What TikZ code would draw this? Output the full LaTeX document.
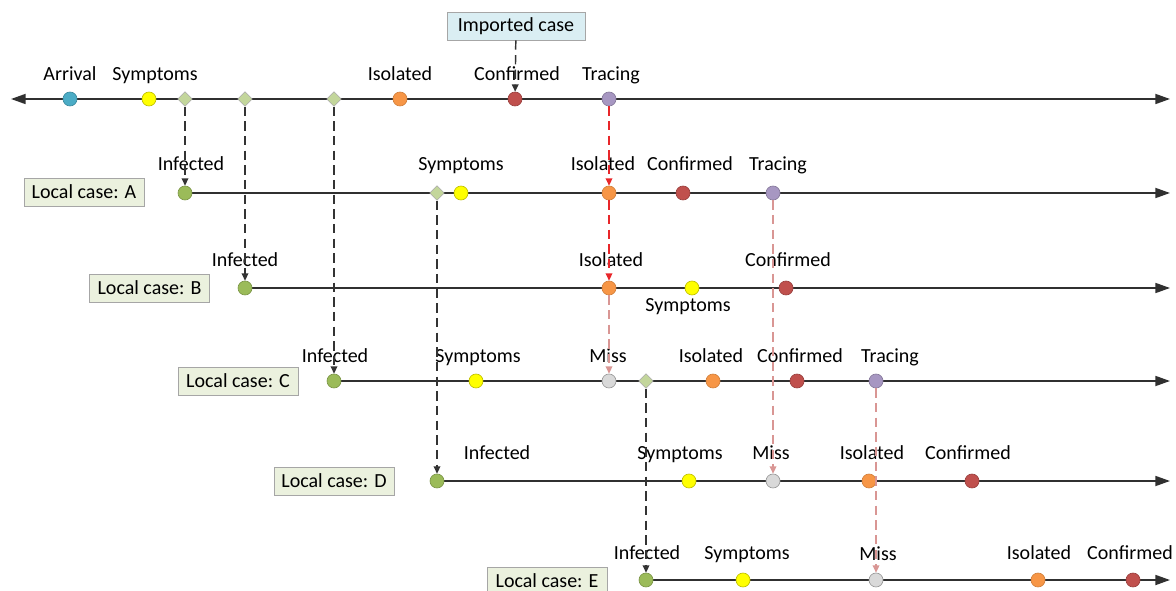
\documentclass[tikz,border=0pt]{standalone}
\usepackage{fontspec}
\setmainfont{Carlito}
\usetikzlibrary{shapes.geometric,arrows.meta}
\definecolor{cArr}{HTML}{4BACC6}
\definecolor{cSym}{HTML}{FFFF00}
\definecolor{cInf}{HTML}{9BBB59}
\definecolor{cIso}{HTML}{F79646}
\definecolor{cCon}{HTML}{C0504D}
\definecolor{cTra}{HTML}{A797C2}
\definecolor{cMiss}{HTML}{D9D9D9}
\definecolor{cDia}{HTML}{C3D69B}
\definecolor{cBoxG}{HTML}{EBF1DE}
\definecolor{cBoxB}{HTML}{DAEEF3}
\definecolor{cRed}{HTML}{E8262A}
\definecolor{cPink}{HTML}{D99694}
\definecolor{cAxis}{HTML}{303030}
\pgfdeclarelayer{bg}
\pgfsetlayers{bg,main}
\begin{document}
\begin{tikzpicture}[x=0.75pt,y=-0.75pt,
  axis/.style={line width=1.3pt, draw=cAxis, -{Triangle[length=11pt,width=7.5pt]}},
  dot/.style={circle, inner sep=0pt, minimum size=10.5pt, line width=0.5pt},
  arr/.style={dot, fill=cArr, draw=cArr!80!black},
  sym/.style={dot, fill=cSym, draw=cSym!75!black},
  inf/.style={dot, fill=cInf, draw=cInf!80!black},
  iso/.style={dot, fill=cIso, draw=cIso!85!black},
  con/.style={dot, fill=cCon, draw=cCon!80!black},
  tra/.style={dot, fill=cTra, draw=cTra!80!black},
  mis/.style={dot, fill=cMiss, draw=black!40},
  dia/.style={diamond, shape aspect=1, inner sep=0pt, minimum size=11pt, fill=cDia, draw=black!35, line width=0.4pt},
  lbl/.style={anchor=base, inner sep=0pt, font=\fontsize{15}{18}\selectfont},
  casebox/.style={draw=black!35, fill=cBoxG, minimum width=90pt, minimum height=21pt, inner sep=0pt, line width=0.6pt, font=\fontsize{15}{18}\selectfont},
  impbox/.style={casebox, fill=cBoxB, minimum width=103.5pt},
  dsh/.style={line width=1.1pt, dash pattern=on 7pt off 4pt, -{Triangle[length=5.5pt,width=5pt]}},
  blk/.style={dsh, draw=black!80},
  redd/.style={dsh, draw=cRed},
  pnk/.style={dsh, draw=cPink}]
\useasboundingbox (0,0) rectangle (1176,591);

% ---- imported case line
\node[impbox] (imp) at (516,26) {Imported case};
\coordinate (tl) at (11,99);
\coordinate (tr) at (1170,99);
\node[arr] (arT) at (70,99) {};
\node[sym] (sT) at (149,99) {};
\node[dia] (d1) at (185,99) {};
\node[dia] (d2) at (245,99) {};
\node[dia] (d3) at (334,99) {};
\node[iso] (isoT) at (400,99) {};
\node[con] (conT) at (515,99) {};
\node[tra] (traT) at (609,99) {};
\node[lbl] (lArT) at (70,81) {Arrival};
\node[lbl] (lST) at (155,81) {Symptoms};
\node[lbl] (lIsoT) at (400,81) {Isolated};
\node[lbl] (lConT) at (517,81) {Confirmed};
\node[lbl] (lTraT) at (611,81) {Tracing};

% ---- local case A
\node[casebox] (bA) at (84,192) {Local case: A};
\coordinate (eA) at (1170,193);
\node[inf] (infA) at (185,193) {};
\node[dia] (dA) at (437,193) {};
\node[sym] (sA) at (461,193) {};
\node[iso] (isoA) at (609,193) {};
\node[con] (conA) at (683,193) {};
\node[tra] (traA) at (773,193) {};
\node[lbl] (lInfA) at (191,171) {Infected};
\node[lbl] (lSA) at (461,171) {Symptoms};
\node[lbl] (lIsoA) at (603,171) {Isolated};
\node[lbl] (lConA) at (690,171) {Confirmed};
\node[lbl] (lTraA) at (778,171) {Tracing};

% ---- local case B
\node[casebox] (bB) at (149.5,288) {Local case: B};
\coordinate (eB) at (1170,288);
\node[inf] (infB) at (245,288) {};
\node[iso] (isoB) at (609,288) {};
\node[sym] (sB) at (692,288) {};
\node[con] (conB) at (786,288) {};
\node[lbl] (lInfB) at (245,267) {Infected};
\node[lbl] (lIsoB) at (611,267) {Isolated};
\node[lbl] (lConB) at (788,267) {Confirmed};
\node[lbl] (lSB) at (688,311) {Symptoms};

% ---- local case C
\node[casebox] (bC) at (238,381) {Local case: C};
\coordinate (eC) at (1170,381);
\node[inf] (infC) at (334,381) {};
\node[sym] (sC) at (476,381) {};
\node[mis] (missC) at (609,381) {};
\node[dia] (dC) at (646,381) {};
\node[iso] (isoC) at (713,381) {};
\node[con] (conC) at (797,381) {};
\node[tra] (traC) at (876,381) {};
\node[lbl] (lInfC) at (335,362) {Infected};
\node[lbl] (lSC) at (478,362) {Symptoms};
\node[lbl] (lMissC) at (608,362) {Miss};
\node[lbl] (lIsoC) at (711,362) {Isolated};
\node[lbl] (lConC) at (800,362) {Confirmed};
\node[lbl] (lTraC) at (890,362) {Tracing};

% ---- local case D
\node[casebox] (bD) at (334,481) {Local case: D};
\coordinate (eD) at (1170,481);
\node[inf] (infD) at (437,481) {};
\node[sym] (sD) at (689,481) {};
\node[mis] (missD) at (773,481) {};
\node[iso] (isoD) at (869,481) {};
\node[con] (conD) at (972,481) {};
\node[lbl] (lInfD) at (497,459) {Infected};
\node[lbl] (lSD) at (680,459) {Symptoms};
\node[lbl] (lMissD) at (771,459) {Miss};
\node[lbl] (lIsoD) at (872,459) {Isolated};
\node[lbl] (lConD) at (968,459) {Confirmed};

% ---- local case E
\node[casebox] (bE) at (547,581) {Local case: E};
\coordinate (eE) at (1170,580);
\node[inf] (infE) at (646,580) {};
\node[sym] (sE) at (743,580) {};
\node[mis] (missE) at (876,580) {};
\node[iso] (isoE) at (1038,580) {};
\node[con] (conE) at (1133,580) {};
\node[lbl] (lInfE) at (647,559) {Infected};
\node[lbl] (lSE) at (747,559) {Symptoms};
\node[lbl] (lMissE) at (878,560) {Miss};
\node[lbl] (lIsoE) at (1039,559) {Isolated};
\node[lbl] (lConE) at (1130,559) {Confirmed};

\begin{pgfonlayer}{bg}
  \draw[axis, {Triangle[length=11pt,width=7.5pt]}-{Triangle[length=11pt,width=7.5pt]}] (tl) -- (tr);
  \draw[axis] (infA) -- (eA);
  \draw[axis] (infB) -- (eB);
  \draw[axis] (infC) -- (eC);
  \draw[axis] (infD) -- (eD);
  \draw[axis] (infE) -- (eE);
\end{pgfonlayer}

% dashed connectors
\draw[blk] (imp) -- (conT);
\draw[blk] (d1) -- (infA);
\draw[blk] (d2) -- (infB);
\draw[blk] (d3) -- (infC);
\draw[blk] (dA) -- (infD);
\draw[blk] (dC) -- (infE);
\draw[redd] (traT) -- (isoA);
\draw[redd] (isoA) -- (isoB);
\draw[pnk] (isoB) -- (missC);
\draw[pnk] (traA) -- (missD);
\draw[pnk] (traC) -- (missE);
\end{tikzpicture}
\end{document}
